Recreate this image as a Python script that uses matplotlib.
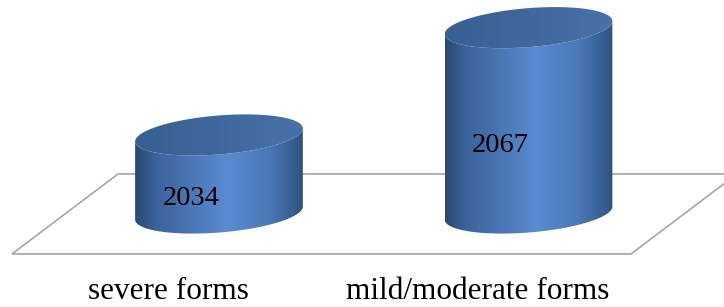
import numpy as np
import matplotlib
matplotlib.use('Agg')
import matplotlib.pyplot as plt
from matplotlib.patches import Polygon
from matplotlib.colors import LinearSegmentedColormap

plt.rcParams['font.family'] = ['Liberation Serif', 'DejaVu Serif']

# data
categories = ['severe forms', 'mild/moderate forms']
values = [2034, 2067]
base = 2010  # value axis minimum (the floor)

# colours
body_cmap = LinearSegmentedColormap.from_list('body', [
    (0.0, '#2b4970'), (0.12, '#3b6299'), (0.55, '#5a8bd1'),
    (0.8, '#4a78b7'), (1.0, '#2f5282')])
top_cmap = LinearSegmentedColormap.from_list('top', ['#395f92', '#3f689c', '#4772a9'])

fig = plt.figure(figsize=(7.24, 3.07), dpi=100)
ax = fig.add_axes([0, 0, 1, 1])

# floor of the 3d chart
depth_x, depth_y = 0.3425, 24.6
fx0, fx1, fy = -0.669, 1.331, base - 12.6
floor = Polygon([[fx0, fy], [fx1, fy], [fx1 + depth_x, fy + depth_y], [fx0 + depth_x, fy + depth_y]],
                closed=True, fill=False, edgecolor='#a6a6a6', lw=1.2, zorder=1)
ax.add_patch(floor)

# cylinder shape
a = 0.271   # half width
b = 6.0     # ellipse half height
sh = 2.0    # tilt of the ellipses


def ell(cx, cy, t):
    return np.column_stack([cx + a * np.cos(t), cy + b * np.sin(t) + sh * np.cos(t)])


grad = np.linspace(0, 1, 256).reshape(1, -1)
for i, v in enumerate(values):
    cx = i
    front = np.linspace(np.pi, 2 * np.pi, 120)
    pts = np.vstack([ell(cx, base, front), ell(cx, v, front[::-1])])
    body = Polygon(pts, closed=True, facecolor='none', edgecolor='none', zorder=2)
    ax.add_patch(body)
    im = ax.imshow(grad, cmap=body_cmap, aspect='auto', origin='lower', zorder=2,
                   extent=[cx - a, cx + a, base - b - sh - 1, v + b + sh + 1])
    im.set_clip_path(body)

    top = Polygon(ell(cx, v, np.linspace(0, 2 * np.pi, 240)), closed=True,
                  facecolor='none', edgecolor='none', zorder=3)
    ax.add_patch(top)
    im2 = ax.imshow(grad, cmap=top_cmap, aspect='auto', origin='lower', zorder=3,
                    extent=[cx - a, cx + a, v - b - sh, v + b + sh])
    im2.set_clip_path(top)

    # value label
    ax.text(cx - 0.09, (base + v) / 2 - 7.6, str(v), fontsize=20.5,
            ha='center', va='center', color='black', zorder=4)
    # category label
    ax.text(cx - 0.163, 1981.3, categories[i], fontsize=22.5,
            ha='center', va='bottom', color='black', zorder=4)

ax.set_xlim(-0.7076, 1.6317)
ax.set_ylim(1981.1, 2075.5)
ax.axis('off')

plt.savefig('out.png', dpi=100)
